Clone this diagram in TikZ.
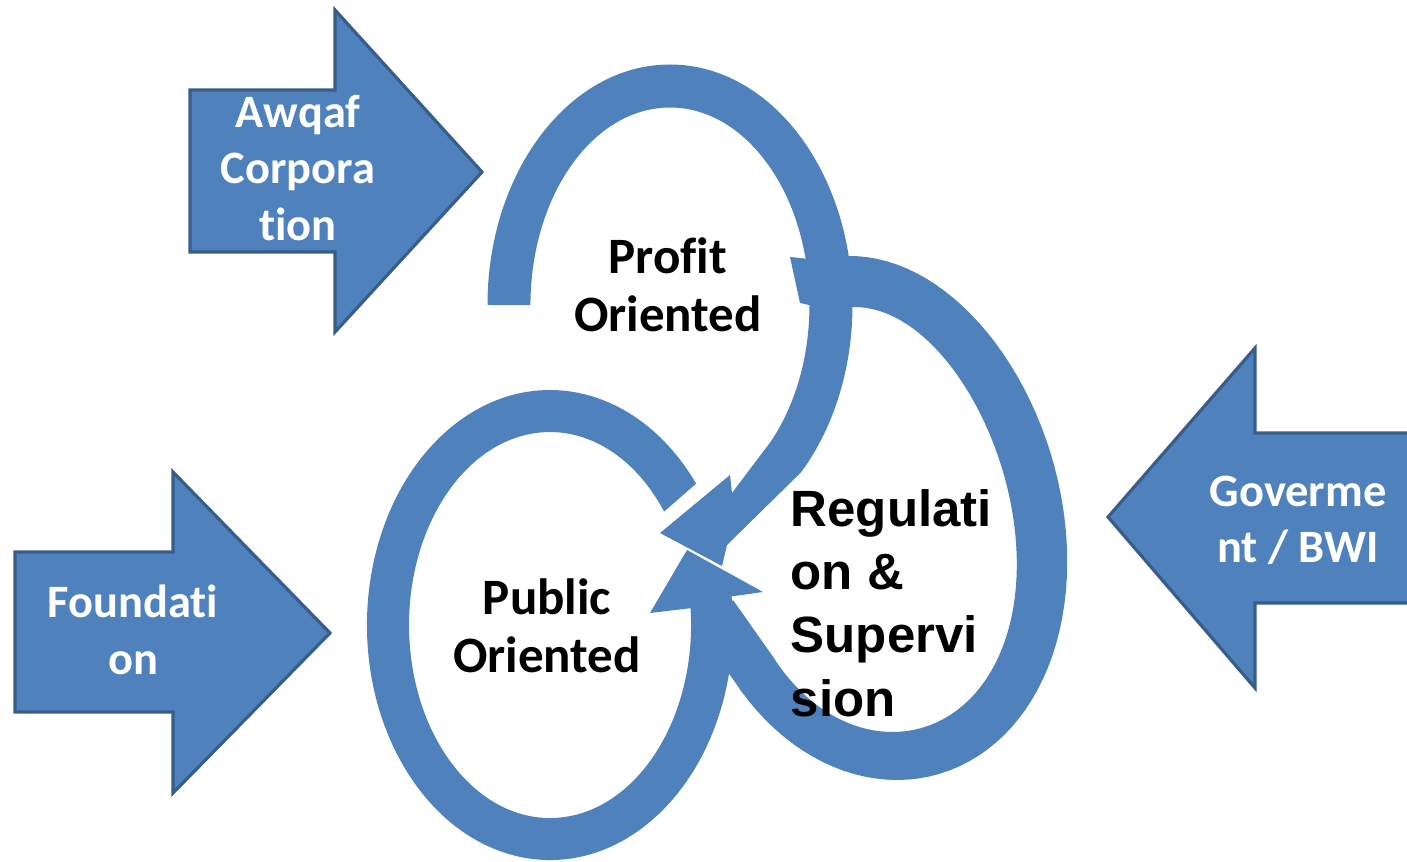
\documentclass[tikz,border=0pt]{standalone}
\usepackage{fontspec}
\setmainfont[Ligatures=NoCommon]{Carlito}
\newfontfamily\regfont{Liberation Sans}
\definecolor{ringblue}{HTML}{4F81BD}
\definecolor{ringedge}{HTML}{385D8A}

\tikzset{
  blockarrow/.style={fill=ringblue, draw=ringedge, line width=0.9pt, line join=miter},
  ringband/.style={fill=ringblue},
  ringtext/.style={align=center, inner sep=0pt, font=\bfseries\fontsize{14.5}{16.5}\selectfont},
  arrowtext/.style={align=center, inner sep=0pt, text=white, font=\bfseries\fontsize{13.2}{16}\selectfont},
  regtext/.style={align=left, inner sep=0pt, anchor=west, font=\regfont\bfseries\fontsize{14.5}{18}\selectfont}
}

\begin{document}
\begin{tikzpicture}[x=0.01cm, y=-0.01cm]

\clip (0,0) rectangle (1407,861);

% block arrows
\draw [blockarrow] (190,90) -- (335,90) -- (335,10) -- (482,172) -- (335,332) -- (335,252) -- (190,252) -- cycle;
\draw [blockarrow] (15,552) -- (173,552) -- (173,472) -- (330,633) -- (173,793) -- (173,712) -- (15,712) -- cycle;
\draw [blockarrow] (1420,433) -- (1255,433) -- (1255,348) -- (1108,517) -- (1255,688) -- (1255,603) -- (1420,603) -- cycle;

% regulation ring (egg shaped, starts under the public ring)
\fill [ringband] (705,640)
  -- plot [domain=142:-100, samples=80] ({873.5+(191+9*sin(\x))*cos(\x)+23.5*sin(\x)}, {518+262*sin(\x)})
  -- (790,257) -- (800,303)
  -- plot [domain=-100:140, samples=80] ({873.5+(140+12*sin(\x))*cos(\x)+19*sin(\x)}, {519.5+212.5*sin(\x)})
  -- (733,600) -- cycle;

% profit ring
\fill [ringband] (487.5,305) arc [start angle=180, end angle=404, x radius=182.5, y radius=240.5]
  -- (727,545) -- (722,566) -- (660,533) -- (730,475) -- (732,493) -- (770.3,442.2)
  arc [start angle=44, end angle=-180, x radius=139.5, y radius=197.5] -- cycle;

% public ring
\fill [ringband] (696.1,483.6) arc [start angle=-37, end angle=-367, x radius=183, y radius=235]
  -- (763,592) -- (687,550) -- (650,613) -- (690.5,608.2)
  arc [start angle=-365, end angle=-36, x radius=141, y radius=193] -- cycle;

\node [arrowtext] (awqaf) at (298,168) {Awqaf\\Corpora\\tion};
\node [arrowtext] (foundation) at (133,630) {Foundati\\on};
\node [arrowtext] (government) at (1298,520) {Goverme\\nt / BWI};

\node [ringtext] (profit) at (668,285) {Profit\\Oriented};
\node [ringtext] (public) at (547,626) {Public\\Oriented};
\node [regtext] (regulation) at (790,603) {Regulati\\on \&\\Supervi\\sion};

\end{tikzpicture}
\end{document}
